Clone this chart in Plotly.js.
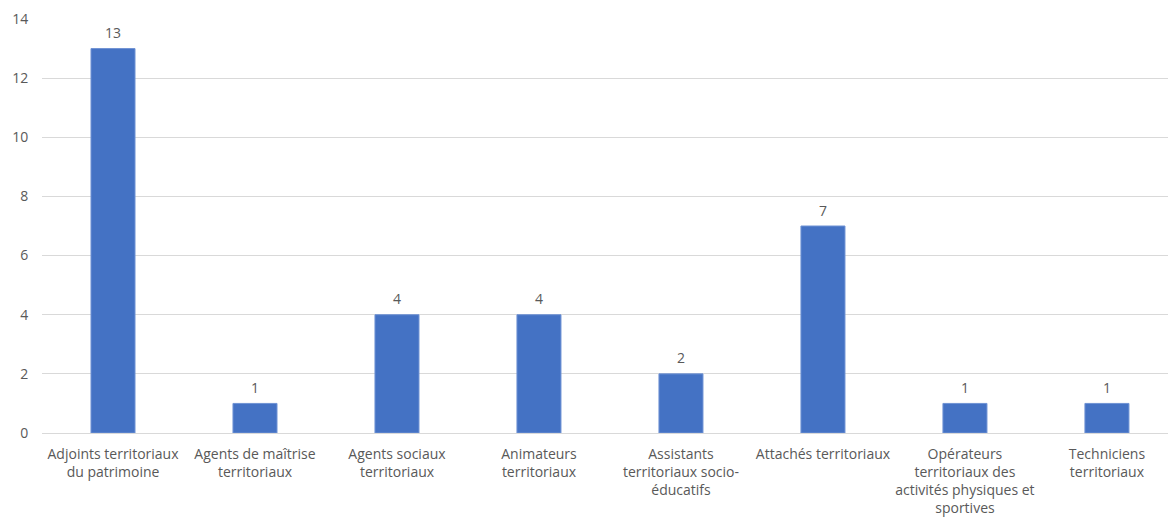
<!DOCTYPE html>
<html>
<head>
<meta charset="utf-8">
<script src="https://cdn.plot.ly/plotly-3.0.1.min.js"></script>
<style>
  html, body { margin: 0; padding: 0; background: #fff; }
  #chart { width: 1168px; height: 522px; }
</style>
</head>
<body>
<div id="chart"></div>
<script>
// Effectifs par cadre d'emplois
const categories = [
  "Adjoints territoriaux<br>du patrimoine",
  "Agents de maîtrise<br>territoriaux",
  "Agents sociaux<br>territoriaux",
  "Animateurs<br>territoriaux",
  "Assistants<br>territoriaux socio-<br>éducatifs",
  "Attachés territoriaux",
  "Opérateurs<br>territoriaux des<br>activités physiques et<br>sportives",
  "Techniciens<br>territoriaux"
];
const values = [13, 1, 4, 4, 2, 7, 1, 1];
const yTicks = [0, 2, 4, 6, 8, 10, 12, 14];

const positions = categories.map((_, i) => i);
const font = "Open Sans, Noto Sans, sans-serif";
const textColor = "#595959";

const trace = {
  type: "bar",
  x: positions,
  y: values,
  width: 0.31,
  marker: { color: "#4472C4", line: { color: "#6f92d4", width: 1 } },
  hoverinfo: "skip"
};

// value labels sitting above each bar
const valueLabels = positions.map((p, i) => ({
  x: p,
  y: values[i],
  xref: "x",
  yref: "y",
  text: String(values[i]),
  showarrow: false,
  yanchor: "middle",
  yshift: 16,
  font: { family: font, size: 14, color: textColor }
}));

const layout = {
  width: 1168,
  height: 522,
  margin: { l: 42, r: 0, t: 19, b: 89 },
  paper_bgcolor: "#ffffff",
  plot_bgcolor: "#ffffff",
  showlegend: false,
  bargap: 0,
  annotations: valueLabels,
  xaxis: {
    range: [-0.5, 7.43],
    tickmode: "array",
    tickvals: positions,
    ticktext: categories,
    tickangle: 0,
    showgrid: false,
    zeroline: false,
    showline: false,
    ticks: "outside",
    ticklen: 8,
    tickcolor: "rgba(0,0,0,0)",
    tickfont: { family: font, size: 14, color: textColor }
  },
  yaxis: {
    range: [0, 14],
    tickmode: "array",
    tickvals: yTicks,
    ticktext: yTicks.map(String),
    showgrid: true,
    gridcolor: "#D9D9D9",
    gridwidth: 1,
    zeroline: true,
    zerolinecolor: "#D9D9D9",
    zerolinewidth: 1,
    showline: false,
    ticks: "outside",
    ticklen: 10,
    tickcolor: "rgba(0,0,0,0)",
    tickfont: { family: font, size: 14, color: textColor }
  }
};

Plotly.newPlot("chart", [trace], layout, { displayModeBar: false, staticPlot: true });
</script>
</body>
</html>
